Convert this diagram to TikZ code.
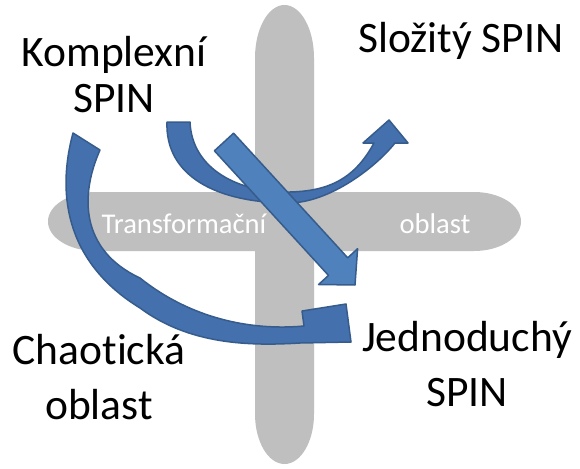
\documentclass[tikz,border=0pt]{standalone}
\usepackage{fontspec}
\setmainfont[Ligatures=NoCommon]{Carlito}
\definecolor{barfill}{RGB}{191,191,191}
\definecolor{arrowfill}{RGB}{79,129,189}
\definecolor{curvefill}{RGB}{68,112,174}
\definecolor{arrowline}{RGB}{54,92,140}
\begin{document}
\begin{tikzpicture}[x=1pt,y=-1pt,
    bar/.style={fill=barfill,draw=none},
    bartext/.style={anchor=base,text=white,inner sep=0pt,font=\fontsize{28.6}{34}\selectfont},
    spintext/.style={anchor=base,align=center,inner sep=0pt,font=\fontsize{43.5}{55}\selectfont},
    blockarrow/.style={fill=arrowfill,draw=arrowline,line width=1.5pt,line join=round},
    curvearrow/.style={blockarrow,fill=curvefill}]

  \useasboundingbox[fill=white] (0,0) rectangle (580,468);

  \path[bar] (255,58) arc[start angle=180,end angle=360,x radius=29.5,y radius=53]
    -- (314,414) arc[start angle=0,end angle=180,x radius=29.5,y radius=50] -- cycle;
  \path[bar] (96,192) -- (474,192) arc[start angle=270,end angle=450,x radius=47,y radius=29.5]
    -- (96,251) arc[start angle=90,end angle=270,x radius=48,y radius=29.5] -- cycle;

  \node[bartext] (transf) at (184,233) {Transformační};
  \node[bartext] (oblastH) at (435,233) {oblast};

  \node[spintext,font=\fontsize{43.5}{45}\selectfont] (komplex) at (114,112) {Komplexní\\SPIN};
  \node[spintext] (slozity) at (461,53) {Složitý SPIN};
  \node[spintext] (chaos) at (99,419) {Chaotická\\oblast};
  \node[spintext] (jednoduchy) at (467,406) {Jednoduchý\\SPIN};

  \path[curvearrow] (73,133) .. controls (55,200) and (70,265) .. (140,308)
    .. controls (190,345) and (250,346) .. (300,343) -- (351,342) -- (346,304) -- (302,311) -- (304,326)
    .. controls (250,331) and (190,318) .. (140,278)
    .. controls (80,250) and (80,195) .. (100,150) -- cycle;

  \path[curvearrow] (167,122) .. controls (165,175) and (215,203) .. (290,203)
    .. controls (330,202) and (375,168) .. (395,143) -- (408,143) -- (389,120) -- (363,143) -- (374,143)
    .. controls (355,178) and (330,191) .. (290,192)
    .. controls (240,193) and (192,170) .. (190,122) -- cycle;

  \path[blockarrow] (214.4,150.8) -- (328.5,275.4) -- (318.6,284.5) -- (355,285)
    -- (357.6,248.7) -- (347.7,257.8) -- (233.6,133.2) -- cycle;

\end{tikzpicture}
\end{document}
